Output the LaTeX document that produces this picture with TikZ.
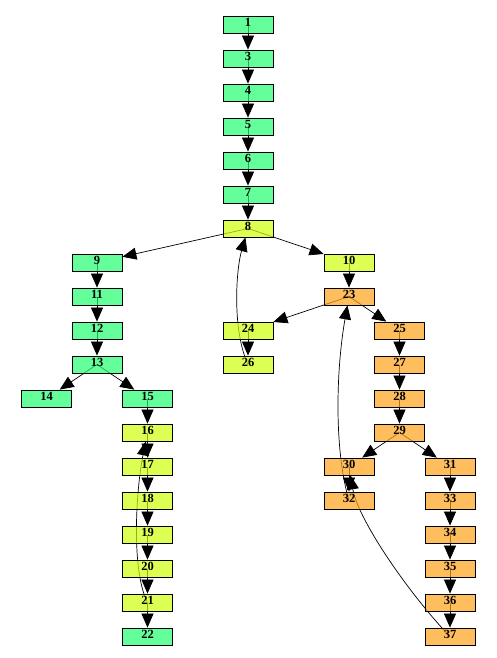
\documentclass[tikz,border=0pt]{standalone}
\usepackage{fontspec}
\setmainfont{Liberation Serif}
\usetikzlibrary{arrows.meta}
\pgfdeclarelayer{edges}
\pgfsetlayers{edges,main}
\definecolor{gn}{RGB}{34,255,112}
\definecolor{yl}{RGB}{206,255,12}
\definecolor{og}{RGB}{255,162,26}
\tikzset{
  box/.style={draw=black, line width=0.8pt, rectangle, minimum width=50pt,
    minimum height=17pt, inner sep=0pt, text depth=4pt,
    font=\fontsize{12.5}{12.5}\selectfont\bfseries, fill opacity=0.7, text opacity=1},
  gbox/.style={box, fill=gn},
  ybox/.style={box, fill=yl},
  obox/.style={box, fill=og},
  conn/.style={line width=0.7pt, draw=black, -{Triangle[length=14pt,width=12pt]}}
}
\begin{document}
\begin{tikzpicture}[x=1pt,y=-1pt]
\useasboundingbox (0,0) rectangle (496,658);
% column 248
\node[gbox] (n1) at (248,24.5) {1};
\node[gbox] (n3) at (248,58.5) {3};
\node[gbox] (n4) at (248,92.5) {4};
\node[gbox] (n5) at (248,126.5) {5};
\node[gbox] (n6) at (248,160.5) {6};
\node[gbox] (n7) at (248,194.5) {7};
\node[ybox] (n8) at (248,228.5) {8};
% left branch
\node[gbox] (n9) at (97,262.5) {9};
\node[gbox] (n11) at (97,296.5) {11};
\node[gbox] (n12) at (97,330.5) {12};
\node[gbox] (n13) at (97,364.5) {13};
\node[gbox] (n14) at (46.5,398.5) {14};
\node[gbox] (n15) at (147.5,398.5) {15};
\node[ybox] (n16) at (147.5,432.5) {16};
\node[ybox] (n17) at (147.5,466.5) {17};
\node[ybox] (n18) at (147.5,500.5) {18};
\node[ybox] (n19) at (147.5,534.5) {19};
\node[ybox] (n20) at (147.5,568.5) {20};
\node[ybox] (n21) at (147.5,602.5) {21};
\node[gbox] (n22) at (147.5,636.5) {22};
% middle
\node[ybox] (n24) at (248,330.5) {24};
\node[ybox] (n26) at (248,364.5) {26};
% right branch
\node[ybox] (n10) at (349,262.5) {10};
\node[obox] (n23) at (349,296.5) {23};
\node[obox] (n25) at (399.5,330.5) {25};
\node[obox] (n27) at (399.5,364.5) {27};
\node[obox] (n28) at (399.5,398.5) {28};
\node[obox] (n29) at (399.5,432.5) {29};
\node[obox] (n30) at (349,466.5) {30};
\node[obox] (n32) at (349,500.5) {32};
\node[obox] (n31) at (450,466.5) {31};
\node[obox] (n33) at (450,500.5) {33};
\node[obox] (n34) at (450,534.5) {34};
\node[obox] (n35) at (450,568.5) {35};
\node[obox] (n36) at (450,602.5) {36};
\node[obox] (n37) at (450,636.5) {37};
\begin{pgfonlayer}{edges}
\foreach \a/\b in {1/3,3/4,4/5,5/6,6/7,7/8,8/9,8/10,9/11,11/12,12/13,13/14,13/15,
  15/16,16/17,17/18,18/19,19/20,20/21,21/22,10/23,23/24,23/25,24/26,25/27,27/28,
  28/29,29/30,29/31,30/32,31/33,33/34,34/35,35/36,36/37}
  \draw[conn] (n\a.center) -- (n\b);
\draw[conn] (n26.center) .. controls (232,330) and (236,270) .. (n8);
\draw[conn] (n21.center) .. controls (131,570) and (136,490) .. (n16);
\draw[conn] (n32.center) .. controls (334,450) and (336,370) .. (n23);
\draw[conn] (n37.center) .. controls (410,595) and (358,520) .. (n30);
\end{pgfonlayer}
\end{tikzpicture}
\end{document}
